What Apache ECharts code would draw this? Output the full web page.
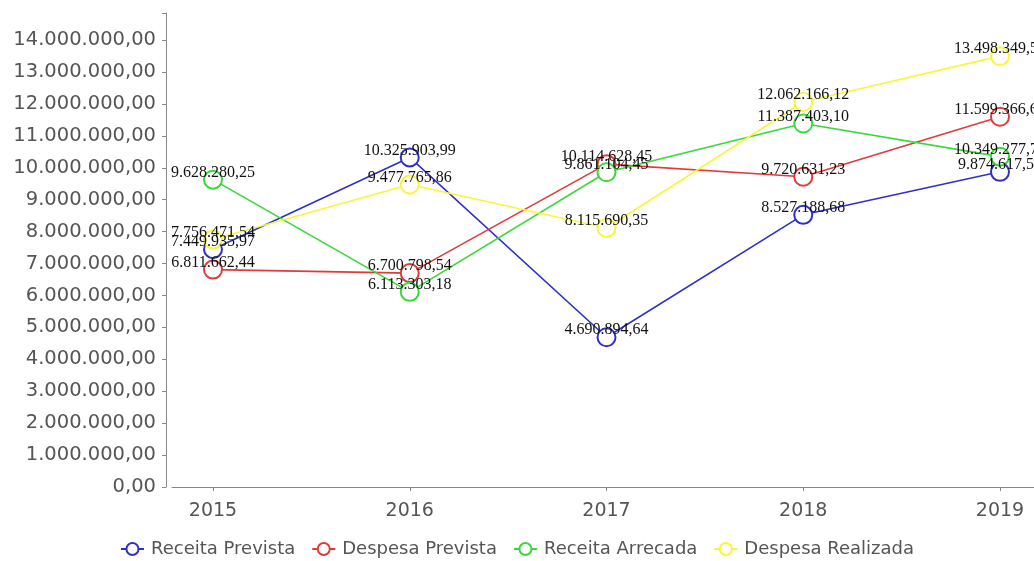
<!DOCTYPE html>
<html>
<head>
<meta charset="utf-8">
<script src="https://cdn.jsdelivr.net/npm/echarts@6/dist/echarts.min.js"></script>
<style>
  html, body { margin: 0; padding: 0; background: #fff; }
  #chart { width: 1034px; height: 561px; }
</style>
</head>
<body>
<div id="chart"></div>
<script>
// Anos do período
const years = [2015, 2016, 2017, 2018, 2019];

// Valores em reais por ano
const receitaPrevista   = [7449935.97, 10325903.99, 4690894.64, 8527188.68, 9874617.51];
const despesaPrevista   = [6811662.44, 6700798.54, 10114628.45, 9720631.23, 11599366.60];
const receitaArrecadada = [9628280.25, 6113303.18, 9861104.45, 11387403.10, 10349277.70];
const despesaRealizada  = [7756471.54, 9477765.86, 8115690.35, 12062166.12, 13498349.50];

const seriesNames  = ['Receita Prevista', 'Despesa Prevista', 'Receita Arrecada', 'Despesa Realizada'];
const seriesColors = ['#3030c8', '#e03a3a', '#3ad83a', '#f7f73a'];
const seriesValues = [receitaPrevista, despesaPrevista, receitaArrecadada, despesaRealizada];

// Formato brasileiro: 1.234.567,89
function fmtBR(v) {
  const neg = v < 0;
  const fixed = Math.abs(v).toFixed(2);
  const parts = fixed.split('.');
  const intPart = parts[0].replace(/\B(?=(\d{3})+(?!\d))/g, '.');
  return (neg ? '-' : '') + intPart + ',' + parts[1];
}

const chart = echarts.init(document.getElementById('chart'), null, { renderer: 'canvas' });

const option = {
  backgroundColor: '#ffffff',
  animation: false,
  grid: { left: 172, right: 0, top: 13, bottom: 74, containLabel: false },
  legend: {
    top: 535,
    left: 'center',
    itemWidth: 23,
    itemHeight: 15,
    itemGap: 16,
    textStyle: { fontFamily: 'DejaVu Sans', fontSize: 18, color: '#555', padding: [0, 0, 0, 2] },
    data: seriesNames
  },
  xAxis: {
    type: 'value',
    min: 2014.7916,
    max: 2019.1728,
    offset: 5,
    axisLine: { show: true, lineStyle: { color: '#888', width: 1 } },
    axisTick: { show: true, length: 4, lineStyle: { color: '#888' }, customValues: years },
    axisLabel: {
      customValues: years,
      formatter: v => String(v),
      margin: 10,
      fontFamily: 'DejaVu Sans',
      fontSize: 19,
      color: '#555'
    },
    splitLine: { show: false }
  },
  yAxis: {
    type: 'value',
    min: 0,
    max: 14850000,
    interval: 1000000,
    offset: 6,
    axisLine: { show: true, lineStyle: { color: '#888', width: 1 } },
    axisTick: { show: true, length: 4, lineStyle: { color: '#888' } },
    axisLabel: {
      formatter: v => (v % 1000000 === 0 ? fmtBR(v) : ''),
      margin: 10,
      fontFamily: 'DejaVu Sans',
      fontSize: 19.5,
      color: '#555'
    },
    splitLine: { show: false }
  },
  series: seriesNames.map((name, i) => ({
    name: name,
    type: 'line',
    data: years.map((y, k) => [y, seriesValues[i][k]]),
    color: seriesColors[i],
    symbol: 'emptyCircle',
    symbolSize: 18,
    lineStyle: { width: 1.6, color: seriesColors[i] },
    itemStyle: { color: seriesColors[i], borderWidth: 1.6 },
    label: {
      show: true,
      position: 'inside',
      offset: [0, -7],
      formatter: p => fmtBR(p.value[1]),
      fontFamily: 'Liberation Serif',
      fontSize: 16,
      color: '#111'
    },
    emphasis: { disabled: true }
  }))
};

chart.setOption(option);
</script>
</body>
</html>
